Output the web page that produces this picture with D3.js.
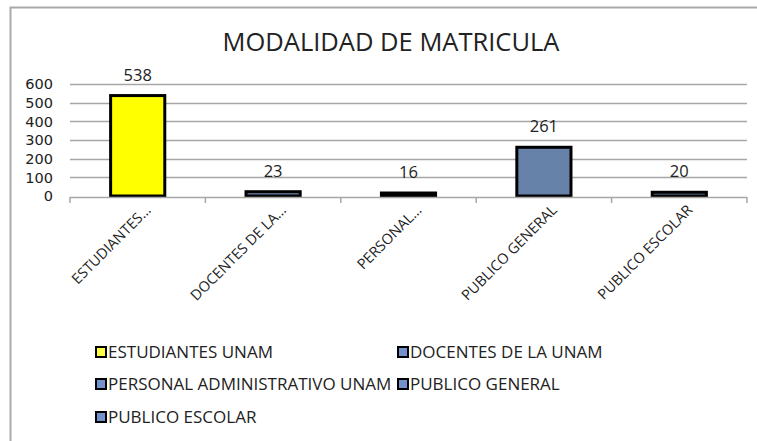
<!DOCTYPE html>
<html>
<head>
<meta charset="utf-8">
<script src="https://cdn.jsdelivr.net/npm/d3@7"></script>
<style>
  body { margin: 0; background: #fff; }
  text { font-family: "Open Sans", sans-serif; fill: #222; }
</style>
</head>
<body>
<div id="chart"></div>
<script>
// data
const categories = ["ESTUDIANTES UNAM", "DOCENTES DE LA UNAM", "PERSONAL ADMINISTRATIVO UNAM", "PUBLICO GENERAL", "PUBLICO ESCOLAR"];
const shortLabels = ["ESTUDIANTES…", "DOCENTES DE LA…", "PERSONAL…", "PUBLICO GENERAL", "PUBLICO ESCOLAR"];
const values = [538, 23, 16, 261, 20];
const yTicks = [0, 100, 200, 300, 400, 500, 600];
const barColors = ["#ffff00", "#6682a8", "#6682a8", "#6682a8", "#6682a8"];
const legendColors = ["#ffff44", "#7591cc", "#7591cc", "#7591cc", "#7591cc"];

const W = 757, H = 441;
const margin = {top: 84, left: 70, right: 10, bottom: 245};

const svg = d3.select("#chart").append("svg")
  .attr("width", W)
  .attr("height", H);

// outer frame (only top and left visible in the reference)
svg.append("path")
  .attr("d", `M10.5,${H} L10.5,7.5 L${W},7.5`)
  .attr("fill", "none")
  .attr("stroke", "#aaa")
  .attr("stroke-width", 2);

svg.append("text")
  .attr("x", 391)
  .attr("y", 51)
  .attr("text-anchor", "middle")
  .style("font-size", "25.5px")
  .text("MODALIDAD DE MATRICULA");

const x = d3.scaleBand()
  .domain(categories)
  .range([margin.left, W - margin.right])
  .paddingInner(0.6)
  .paddingOuter(0.3);

const y = d3.scaleLinear()
  .domain([0, 600])
  .range([196, margin.top]);

// gridlines
svg.append("g")
  .selectAll("line")
  .data(yTicks.filter(d => d > 0))
  .join("line")
  .attr("x1", margin.left)
  .attr("x2", W - margin.right)
  .attr("y1", d => Math.round(y(d)) + 0.5)
  .attr("y2", d => Math.round(y(d)) + 0.5)
  .attr("stroke", "#a6a6a6")
  .attr("stroke-width", 1.5);

// y axis labels (tightly stacked, so a font with a short line box)
svg.append("g")
  .selectAll("text")
  .data(yTicks)
  .join("text")
  .attr("x", 53)
  .attr("y", d => y(d))
  .attr("dy", "0.36em")
  .attr("text-anchor", "end")
  .style("font-family", "'DejaVu Sans', sans-serif")
  .style("font-size", "14.5px")
  .text(d => d);

// bars
svg.append("g")
  .selectAll("rect")
  .data(values)
  .join("rect")
  .attr("x", (d, i) => x(categories[i]))
  .attr("y", d => y(d))
  .attr("width", x.bandwidth())
  .attr("height", d => y(0) - y(d))
  .attr("fill", (d, i) => barColors[i])
  .attr("stroke", "#000")
  .attr("stroke-width", 3);

// value labels
svg.append("g")
  .selectAll("text")
  .data(values)
  .join("text")
  .attr("x", (d, i) => x(categories[i]) + x.bandwidth() / 2)
  .attr("y", d => y(d) - 15)
  .attr("text-anchor", "middle")
  .style("font-size", "16.5px")
  .text(d => d);

// x axis line and category boundary ticks
const step = x.step();
const xAxis = svg.append("g");
xAxis.append("line")
  .attr("x1", margin.left).attr("x2", W - margin.right)
  .attr("y1", 197.5).attr("y2", 197.5)
  .attr("stroke", "#a6a6a6").attr("stroke-width", 1.5);
xAxis.selectAll(".tick")
  .data(d3.range(categories.length + 1))
  .join("line")
  .attr("class", "tick")
  .attr("x1", i => margin.left + i * step)
  .attr("x2", i => margin.left + i * step)
  .attr("y1", 197).attr("y2", 203)
  .attr("stroke", "#a6a6a6").attr("stroke-width", 1.5);

// rotated category labels
svg.append("g")
  .selectAll("text")
  .data(shortLabels)
  .join("text")
  .attr("text-anchor", "end")
  .attr("transform", (d, i) => `translate(${x(categories[i]) + x.bandwidth() / 2 + 14},${211}) rotate(-45)`)
  .style("font-size", "14.5px")
  .text(d => d);

// legend
const legendPos = [[96, 352], [398, 352], [96, 384], [398, 384], [96, 417]];
const legend = svg.append("g")
  .selectAll("g")
  .data(categories)
  .join("g")
  .attr("transform", (d, i) => `translate(${legendPos[i][0]},${legendPos[i][1]})`);

legend.append("rect")
  .attr("x", 0).attr("y", -5)
  .attr("width", 10).attr("height", 10)
  .attr("fill", (d, i) => legendColors[i])
  .attr("stroke", "#000")
  .attr("stroke-width", 2);

legend.append("text")
  .attr("x", 12)
  .attr("y", 0)
  .attr("dy", "0.35em")
  .style("font-size", "17px")
  .text(d => d);
</script>
</body>
</html>
